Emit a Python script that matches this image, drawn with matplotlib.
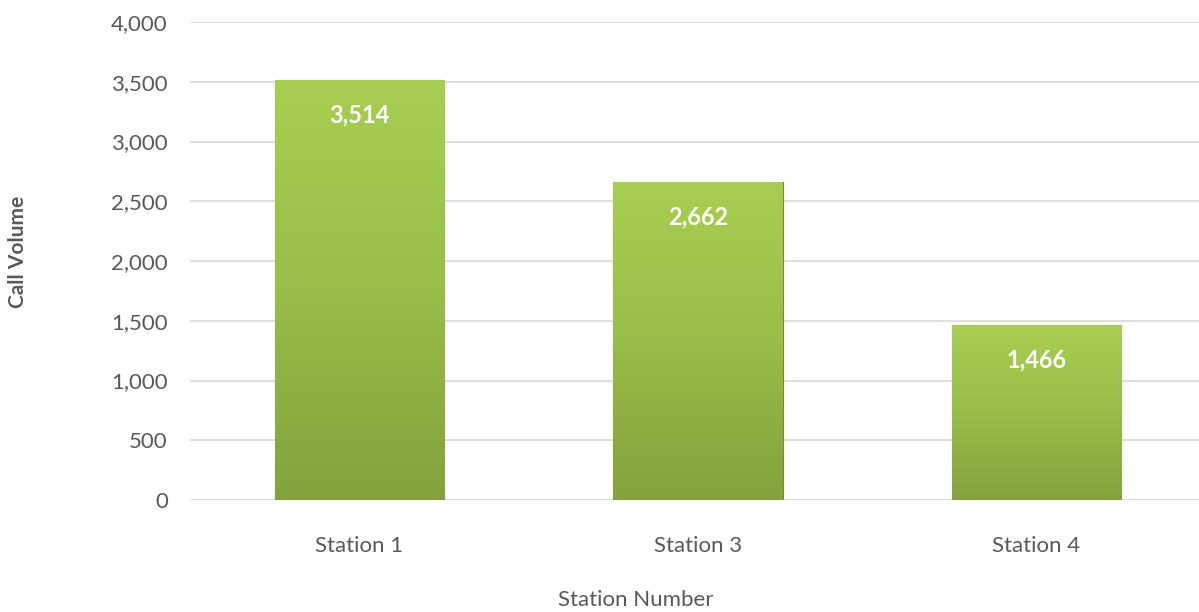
import numpy as np
import matplotlib.pyplot as plt
from matplotlib.colors import LinearSegmentedColormap
from matplotlib import font_manager

stations = ['Station 1', 'Station 3', 'Station 4']
calls = [3514, 2662, 1466]
yticks = [0, 500, 1000, 1500, 2000, 2500, 3000, 3500, 4000]

names = {f.name for f in font_manager.fontManager.ttflist}
font = 'Lato' if 'Lato' in names else 'DejaVu Sans'
plt.rcParams['font.family'] = [font, 'DejaVu Sans']

fig = plt.figure(figsize=(11.99, 6.12), dpi=100)
ax = fig.add_axes([190 / 1199, 112 / 612, 1009 / 1199, 478 / 612])

x = np.arange(len(stations))
bars = ax.bar(x, calls, width=0.5, color='#95b944', edgecolor='#6f8f2e', linewidth=0.8, zorder=2)

# vertical gradient inside each bar
cmap = LinearSegmentedColormap.from_list('g', ['#83a23d', '#98bd48', '#a8cf51'])
grad = np.linspace(0, 1, 256).reshape(-1, 1)
for b in bars:
    x0, w, h = b.get_x(), b.get_width(), b.get_height()
    im = ax.imshow(grad, cmap=cmap, aspect='auto', origin='lower',
                   extent=[x0, x0 + w, 0, h], zorder=2.5)
    im.set_clip_path(b)

for xi, v in zip(x, calls):
    ax.text(xi, v - 290, f'{v:,}', ha='center', va='center', color='white',
            fontsize=17, fontweight='bold', zorder=3)

ax.set_xlim(-0.5, 2.48)
ax.set_ylim(0, 4000)
ax.set_yticks(yticks)
ax.set_yticklabels([f'{t:,}' for t in yticks])
ax.set_xticks(x)
ax.set_xticklabels(stations)
ax.yaxis.grid(True, color='#d9d9d9', linewidth=1.2, zorder=0)
ax.set_axisbelow(True)
for s in ax.spines.values():
    s.set_visible(False)
ax.tick_params(axis='both', length=0, labelsize=16, colors='#595959')
ax.tick_params(axis='y', pad=16)
ax.tick_params(axis='x', pad=26)

fig.text(18 / 1199, 1 - 252 / 612, 'Call Volume', rotation=90, ha='center', va='center',
         fontsize=15, fontweight='bold', color='#595959')
fig.text(636 / 1199, 1 - 600 / 612, 'Station Number', ha='center', va='center',
         fontsize=16, color='#595959')

fig.savefig('out.png', dpi=100)
